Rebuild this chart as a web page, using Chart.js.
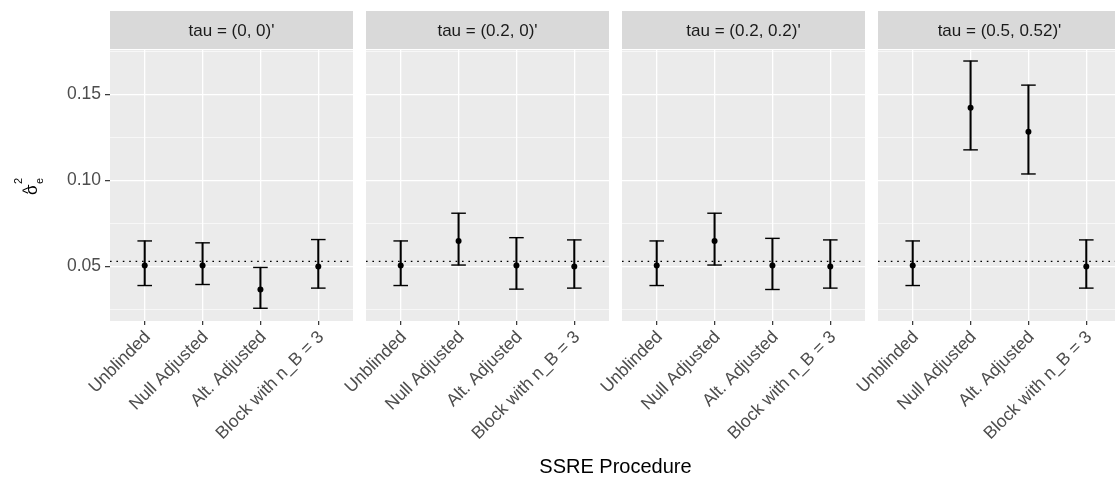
<!DOCTYPE html>
<html>
<head>
<meta charset="utf-8">
<script src="https://cdn.jsdelivr.net/npm/chart.js@4"></script>
<style>
  body { margin: 0; width: 1115px; height: 478px; overflow: hidden; background: #fff; position: relative; }
  canvas { position: absolute; top: 0; }
  #xtitle { position: absolute; left: 110px; width: 1011px; top: 455px; text-align: center;
            font: 20px "Liberation Sans", Arial, sans-serif; color: #000; }
</style>
</head>
<body>
<canvas id="f0" width="353" height="478" style="left:0px"></canvas>
<canvas id="f1" width="353" height="478" style="left:256px"></canvas>
<canvas id="f2" width="353" height="478" style="left:512px"></canvas>
<canvas id="f3" width="353" height="478" style="left:768px"></canvas>
<div id="xtitle">SSRE Procedure</div>
<script>
var procedures = ['Unblinded', 'Null Adjusted', 'Alt. Adjusted', 'Block with n_B = 3'];
var facets = ["tau = (0, 0)'", "tau = (0.2, 0)'", "tau = (0.2, 0.2)'", "tau = (0.5, 0.52)'"];

// point estimate and interval ends, one row per facet
var estimate = [
  [0.0506, 0.0506, 0.0366, 0.0500],
  [0.0506, 0.0648, 0.0506, 0.0500],
  [0.0506, 0.0648, 0.0506, 0.0500],
  [0.0506, 0.1422, 0.1282, 0.0500]
];
var lower = [
  [0.0389, 0.0395, 0.0257, 0.0374],
  [0.0389, 0.0508, 0.0368, 0.0374],
  [0.0389, 0.0508, 0.0366, 0.0374],
  [0.0389, 0.1177, 0.1037, 0.0374]
];
var upper = [
  [0.0648, 0.0637, 0.0494, 0.0656],
  [0.0648, 0.0809, 0.0667, 0.0654],
  [0.0648, 0.0809, 0.0663, 0.0654],
  [0.0648, 0.1693, 0.1553, 0.0654]
];
var trueValue = 0.0529;
var yTicks = [0.025, 0.05, 0.075, 0.10, 0.125, 0.15, 0.175];

var FONT = '"Liberation Sans", Arial, sans-serif';

function isMajor(v) {
  return Math.abs(v / 0.05 - Math.round(v / 0.05)) < 1e-6;
}

var facetPlugin = {
  id: 'facet',
  beforeDraw: function (chart, args, opts) {
    var ctx = chart.ctx, a = chart.chartArea;
    ctx.save();
    ctx.fillStyle = '#EBEBEB';
    ctx.fillRect(a.left, a.top, a.width, a.height);
    ctx.fillStyle = '#D9D9D9';
    ctx.fillRect(a.left, 11, a.width, a.top - 12);
    ctx.fillStyle = '#1A1A1A';
    ctx.font = '17px ' + FONT;
    ctx.textAlign = 'center';
    ctx.textBaseline = 'middle';
    ctx.fillText(opts.label, (a.left + a.right) / 2, 31);
    ctx.restore();
  },
  afterDraw: function (chart, args, opts) {
    if (!opts.yTitle) return;
    // sigma hat squared, subscript e
    var ctx = chart.ctx;
    ctx.save();
    ctx.translate(37, 195);
    ctx.rotate(-Math.PI / 2);
    ctx.fillStyle = '#000';
    ctx.textBaseline = 'alphabetic';
    ctx.textAlign = 'left';
    ctx.font = '17px ' + FONT;
    ctx.fillText('σ', 0, 0);
    ctx.font = '14px ' + FONT;
    ctx.textAlign = 'center';
    ctx.fillText('^', 4.5, -4.5);
    ctx.textAlign = 'left';
    ctx.font = '11px ' + FONT;
    ctx.fillText('2', 11, -15);
    ctx.fillText('e', 11, 5.5);
    ctx.restore();
  }
};

function makeFacet(f) {
  var means = procedures.map(function (p, i) { return { x: i, y: estimate[f][i] }; });
  var caps = [];
  procedures.forEach(function (p, i) {
    caps.push({ x: i, y: lower[f][i] });
    caps.push({ x: i, y: upper[f][i] });
  });
  var stems = procedures.map(function (p, i) { return { x: i, y: [lower[f][i], upper[f][i]] }; });

  new Chart(document.getElementById('f' + f), {
    type: 'scatter',
    data: {
      datasets: [
        { type: 'scatter', data: means, pointRadius: 3, backgroundColor: '#000', borderWidth: 0 },
        { type: 'scatter', data: caps, pointStyle: 'line', pointRadius: 7.3, borderColor: '#000', borderWidth: 1.4 },
        { type: 'bar', data: stems, backgroundColor: '#000', barThickness: 1.4, borderWidth: 0 },
        { type: 'line', data: [{ x: -0.6, y: trueValue }, { x: 3.6, y: trueValue }],
          borderColor: '#000', borderWidth: 1.3, borderDash: [1.6, 4.8], pointRadius: 0, fill: false }
      ]
    },
    options: {
      responsive: false,
      animation: false,
      events: [],
      layout: { autoPadding: false, padding: { top: 50, left: 0, right: 0, bottom: 0 } },
      plugins: {
        legend: { display: false },
        tooltip: { enabled: false },
        facet: { label: facets[f], yTitle: f === 0 }
      },
      scales: {
        x: {
          type: 'linear',
          min: -0.6,
          max: 3.6,
          offset: false,
          afterBuildTicks: function (s) { s.ticks = procedures.map(function (p, i) { return { value: i }; }); },
          afterFit: function (s) { s.height = 157; s.paddingLeft = 0; s.paddingRight = 0; },
          grid: { offset: false, color: '#FFFFFF', lineWidth: 1.3, tickColor: '#333333', tickLength: 4, tickWidth: 1.2 },
          border: { display: false },
          ticks: {
            autoSkip: false, maxRotation: 45, minRotation: 45, padding: 2, labelOffset: 3,
            color: '#4D4D4D', font: { family: FONT, size: 17.5 },
            callback: function (v) { return procedures[v]; }
          }
        },
        y: {
          min: 0.0183,
          max: 0.1757,
          afterBuildTicks: function (s) { s.ticks = yTicks.map(function (v) { return { value: v }; }); },
          afterFit: function (s) { s.width = 110; s.paddingTop = 0; s.paddingBottom = 0; },
          grid: {
            color: '#FFFFFF',
            lineWidth: function (c) { return isMajor(c.tick.value) ? 1.3 : 0.6; },
            tickColor: function (c) { return (f === 0 && isMajor(c.tick.value)) ? '#333333' : 'rgba(0,0,0,0)'; },
            tickLength: 5,
            tickWidth: 1.2
          },
          border: { display: false },
          ticks: {
            display: f === 0,
            padding: 4,
            color: '#4D4D4D', font: { family: FONT, size: 17.5 },
            callback: function (v) { return isMajor(v) ? v.toFixed(2) : ''; }
          }
        }
      }
    },
    plugins: [facetPlugin]
  });
}

for (var f = 0; f < facets.length; f++) makeFacet(f);
</script>
</body>
</html>
